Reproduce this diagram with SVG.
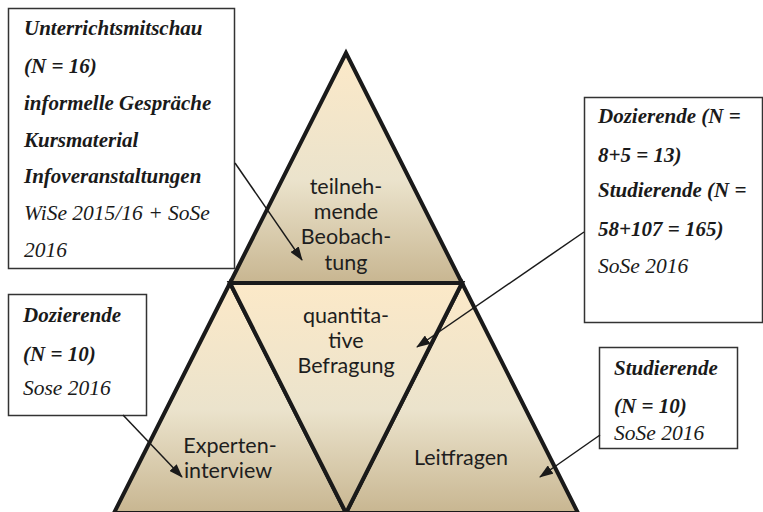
<svg xmlns="http://www.w3.org/2000/svg" width="763" height="512" viewBox="0 0 763 512">
<defs>
<linearGradient id="g" x1="0" y1="0" x2="0" y2="1">
<stop offset="0" stop-color="#fce9c8"/>
<stop offset="0.55" stop-color="#ebe3cc"/>
<stop offset="1" stop-color="#c8b691"/>
</linearGradient>
<marker id="ah" viewBox="0 0 14 10" refX="13" refY="5" markerWidth="14" markerHeight="10" markerUnits="userSpaceOnUse" orient="auto">
<path d="M0,0 L14,5 L0,10 z" fill="#1a1a1a"/>
</marker>
<style>
.tri{fill:url(#g);stroke:#1a1a1a;stroke-width:4;stroke-linejoin:miter}
.box{fill:#fff;stroke:#333;stroke-width:1.5}
.bt{font-family:"Liberation Serif","Times New Roman",serif;font-size:21px;font-style:italic;font-weight:bold;fill:#1a1a1a}
.it{font-family:"Liberation Serif","Times New Roman",serif;font-size:21.5px;font-style:italic;fill:#1a1a1a}
.lbl{font-family:Lato,"Open Sans",sans-serif;font-size:21.5px;fill:#1e1e1e;text-anchor:middle}
.con{stroke:#1a1a1a;stroke-width:1.5;fill:none;marker-end:url(#ah)}
</style>
</defs>
<g id="tri-top">
<polygon class="tri" points="346,53 230,283 462,283"/>
<text class="lbl" x="346" y="194">teilneh-</text>
<text class="lbl" x="346" y="219">mende</text>
<text class="lbl" x="346" y="244">Beobach-</text>
<text class="lbl" x="346" y="270">tung</text>
</g>
<g id="tri-left">
<polygon class="tri" points="230,283 114,513 346,513"/>
<text class="lbl" x="230" y="453">Experten-</text>
<text class="lbl" x="228" y="478">interview</text>
</g>
<g id="tri-right">
<polygon class="tri" points="462,283 346,513 578,513"/>
<text class="lbl" x="461" y="465">Leitfragen</text>
</g>
<g id="tri-mid">
<polygon class="tri" points="230,283 462,283 346,513"/>
<text class="lbl" x="346" y="323">quantita-</text>
<text class="lbl" x="346" y="348">tive</text>
<text class="lbl" x="346" y="373">Befragung</text>
</g>
<g id="box-beobachtung">
<rect class="box" x="8.5" y="8.5" width="226" height="260"/>
<text class="bt" x="24" y="35">Unterrichtsmitschau</text>
<text class="bt" x="24" y="73">(N = 16)</text>
<text class="bt" x="24" y="110">informelle Gespräche</text>
<text class="bt" x="24" y="147">Kursmaterial</text>
<text class="bt" x="24" y="183">Infoveranstaltungen</text>
<text class="it" x="24" y="220">WiSe 2015/16 + SoSe</text>
<text class="it" x="24" y="257">2016</text>
</g>
<g id="box-befragung">
<rect class="box" x="584.5" y="97.5" width="178" height="225"/>
<text class="bt" x="598" y="123">Dozierende (N =</text>
<text class="bt" x="598" y="162">8+5 = 13)</text>
<text class="bt" x="598" y="197">Studierende (N =</text>
<text class="bt" x="598" y="236">58+107 = 165)</text>
<text class="it" x="598" y="273">SoSe 2016</text>
</g>
<g id="box-interview">
<rect class="box" x="8.5" y="294.5" width="138" height="121"/>
<text class="bt" x="23" y="322">Dozierende</text>
<text class="bt" x="23" y="361">(N = 10)</text>
<text class="it" x="23" y="395">Sose 2016</text>
</g>
<g id="box-leitfragen">
<rect class="box" x="599.5" y="347.5" width="138" height="101"/>
<text class="bt" x="614" y="375">Studierende</text>
<text class="bt" x="614" y="413">(N = 10)</text>
<text class="it" x="614" y="440">SoSe 2016</text>
</g>
<g id="connectors">
<line class="con" x1="235" y1="163" x2="302" y2="260"/>
<line class="con" x1="584" y1="232" x2="417" y2="347"/>
<line class="con" x1="123" y1="415" x2="182" y2="477"/>
<line class="con" x1="600" y1="435" x2="540" y2="477"/>
</g>
</svg>
